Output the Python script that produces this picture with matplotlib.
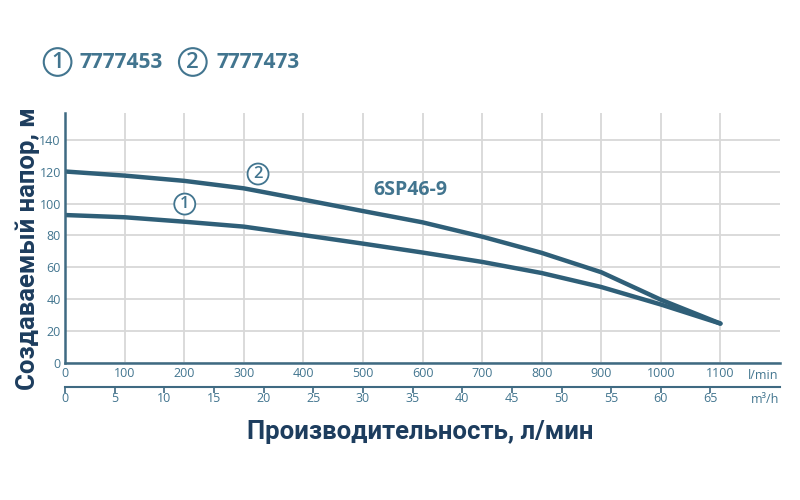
import matplotlib.pyplot as plt

# === Data ===
flow = [0, 100, 200, 300, 400, 500, 600, 700, 800, 900, 1000, 1100]
head_1 = [92.8, 91.4, 88.6, 85.5, 80.2, 74.8, 69.2, 63.3, 56.3, 47.5, 36.5, 24.5]
head_2 = [120.2, 117.6, 114.3, 109.6, 102.5, 95.3, 88.2, 79.2, 69.0, 56.8, 39.5, 24.5]

x_ticks = [0, 100, 200, 300, 400, 500, 600, 700, 800, 900, 1000, 1100]
y_ticks = [0, 20, 40, 60, 80, 100, 120, 140]
m3h_ticks = [0, 5, 10, 15, 20, 25, 30, 35, 40, 45, 50, 55, 60, 65]

codes = ["7777453", "7777473"]
model = "6SP46-9"

line_c = "#2f5f78"
label_c = "#42758f"
axis_c = "#3f6a82"
grid_c = "#d8d8d8"
navy = "#1d3d5e"

plt.rcParams["font.family"] = ["Open Sans", "DejaVu Sans"]

fig = plt.figure(figsize=(8, 5), dpi=100)
ax = fig.add_axes([0.08125, 0.275, 0.89375, 0.499])

ax.plot(flow, head_1, color=line_c, lw=3.2, solid_capstyle="round")
ax.plot(flow, head_2, color=line_c, lw=3.2, solid_capstyle="round")

ax.set_xlim(0, 1200)
ax.set_ylim(0, 157)
ax.set_xticks(x_ticks)
ax.set_yticks(y_ticks)
ax.grid(True, color=grid_c, lw=1.3)
ax.set_axisbelow(True)
for s in ["top", "right"]:
    ax.spines[s].set_visible(False)
for s in ["left", "bottom"]:
    ax.spines[s].set_color(axis_c)
    ax.spines[s].set_linewidth(1.8)
ax.tick_params(length=0, pad=3, labelsize=9, labelcolor=label_c)
ax.text(1198, -4, "l/min", ha="right", va="top", fontsize=9, color=label_c)

# second flow axis in m3/h
sec = ax.secondary_xaxis(-0.097, functions=(lambda q: q * 60 / 1000, lambda v: v * 1000 / 60))
sec.set_xticks(m3h_ticks)
sec.spines["bottom"].set_color(axis_c)
sec.spines["bottom"].set_linewidth(1.5)
sec.tick_params(direction="out", length=4, width=1.2, color=axis_c,
                labelsize=9, labelcolor=label_c, pad=0)
ax.text(1198, -19.5, "m³/h", ha="right", va="top", fontsize=9, color=label_c)

# curve labels
circ = dict(boxstyle="circle,pad=0.15", fc="white", ec=label_c, lw=1.3)
ax.text(324, 118.6, "2", ha="center", va="center", fontsize=12, fontweight="semibold",
        color=label_c, bbox=circ)
ax.text(201, 99.7, "1", ha="center", va="center", fontsize=12, fontweight="semibold",
        color=label_c, bbox=circ)
ax.text(579, 108.6, model, ha="center", va="center", fontsize=14, fontweight="bold", color=label_c)

# header with article numbers
hc = dict(boxstyle="circle,pad=0.15", fc="white", ec=label_c, lw=1.5)
fig.text(0.072, 0.876, "1", ha="center", va="center", fontsize=16, fontweight="semibold",
         color=label_c, bbox=hc)
fig.text(0.1, 0.876, codes[0], ha="left", va="center", fontsize=15, fontweight="bold", color=label_c)
fig.text(0.241, 0.876, "2", ha="center", va="center", fontsize=16, fontweight="semibold",
         color=label_c, bbox=hc)
fig.text(0.271, 0.876, codes[1], ha="left", va="center", fontsize=15, fontweight="bold", color=label_c)

fig.text(0.035, 0.502, "Создаваемый напор, м", rotation=90, ha="center", va="center",
         fontsize=18.5, fontweight="bold", color=navy, family="Roboto")
fig.text(0.525, 0.136, "Производительность, л/мин", ha="center", va="center",
         fontsize=18.5, fontweight="bold", color=navy, family="Roboto")

fig.savefig("out.png", dpi=100)
